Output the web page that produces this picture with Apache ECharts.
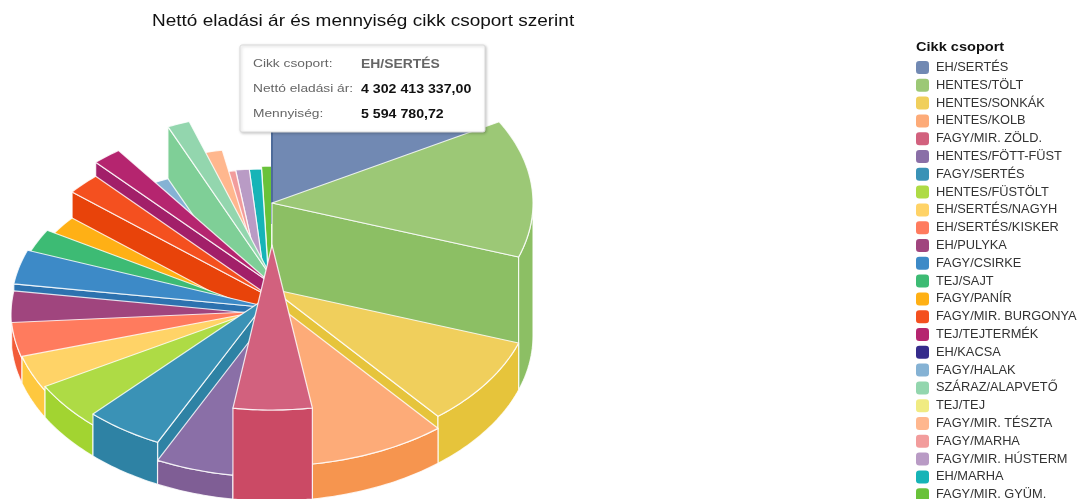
<!DOCTYPE html>
<html><head><meta charset="utf-8">
<style>html,body{margin:0;padding:0;background:#fff}#c{width:1082px;height:499px}</style>
<script src="https://cdn.jsdelivr.net/npm/echarts@6/dist/echarts.min.js"></script>
</head><body><div id="c"></div>
<script>
const categories = ['EH/SERTÉS','HENTES/TÖLT','HENTES/SONKÁK','HENTES/KOLB','FAGY/MIR. ZÖLD.','HENTES/FÖTT-FÜST','FAGY/SERTÉS','HENTES/FÜSTÖLT','EH/SERTÉS/NAGYH','EH/SERTÉS/KISKER','EH/PULYKA','FAGY/CSIRKE','TEJ/SAJT','FAGY/PANÍR','FAGY/MIR. BURGONYA','TEJ/TEJTERMÉK','EH/KACSA','FAGY/HALAK','SZÁRAZ/ALAPVETŐ','TEJ/TEJ','FAGY/MIR. TÉSZTA','FAGY/MARHA','FAGY/MIR. HÚSTERM','EH/MARHA','FAGY/MIR. GYÜM.'];
const nettoAr = [4302413337,3456000000,2233000000,2175000000,1245000000,1237000000,1230000000,1216000000,917000000,903000000,882000000,860000000,711000000,676000000,533000000,462000000,427000000,462000000,356000000,249000000,284000000,213000000,213000000,192000000,164000000];
const mennyiseg = [5594780.72,6650000,2350000,1750000,4550000,1200000,2100000,1550000,1350000,1250000,1050000,1400000,1100000,600000,1900000,2600000,90000,300000,2900000,60000,1200000,100000,130000,110000,240000];
const topColors = ['#7189B3','#9CC876','#F0CF5C','#FDAB78','#D2617E','#8A6FA7','#3A92B6','#AEDB45','#FFD367','#FF7B5E','#A0457E','#3D8AC7','#3DBB74','#FFB015','#F4501F','#B5256F','#352C8C','#85B2D4','#93D6AE','#F0EB82','#FFB78E','#F29C9C','#B99BC5','#16B4B7','#69C23A'];
const sideColors = ['#5D7AA6','#8CBF64','#E6C43B','#F6954F','#CB4A65','#7F5E95','#2E82A4','#A2D431','#FEC83F','#F25C38','#8F3A72','#2C72AF','#2FAE66','#F5A300','#E8430A','#A21F69','#2A2278','#6FA2C8','#7FCF97','#E6E06A','#F7A57A','#E88888','#A888B5','#0FA3A6','#5AB32C'];
const tooltipLabels = ['Cikk csoport:','Nettó eladási ár:','Mennyiség:'];

const chartTitle = 'Nettó eladási ár és mennyiség cikk csoport szerint';
const legendTitle = 'Cikk csoport';

const CX = 272, RX = 261, BASE_Y = 336, RY = 165, UNITS_PER_PX = 50000;
const total = nettoAr.reduce((a,b)=>a+b,0);
const starts = []; let acc = 0;
nettoAr.forEach(v=>{starts.push(acc/total*2*Math.PI); acc+=v;});
const ends = nettoAr.map((v,i)=>starts[i]+v/total*2*Math.PI);
const mids = starts.map((s,i)=>(s+ends[i])/2);

function fmt(v,dec){
  const parts = v.toFixed(dec).split('.');
  return parts[0].replace(/\B(?=(\d{3})+$)/g,' ')+','+parts[1];
}
function renderSlice(i){
  return function(params,api){
    const t0=starts[i],t1=ends[i];
    const q=api.value(1);
    const topC=api.coord([0,q]), baseC=api.coord([0,0]);
    const rx=api.size([1,0])[0];
    const ry=rx*RY/RX;
    const pt=(c,t)=>[c[0]+rx*Math.sin(t),c[1]-ry*Math.cos(t)];
    const style=(f)=>({fill:f,stroke:'rgba(255,255,255,0.82)',lineWidth:1.2,lineJoin:'round'});
    const children=[];
    const face=t=>({type:'polygon',silent:true,shape:{points:[topC,pt(topC,t),pt(baseC,t),baseC]},style:style(sideColors[i])});
    if(Math.sin(t0)<-1e-6) children.push(face(t0));
    if(Math.sin(t1)>1e-6) children.push(face(t1));
    const a=Math.max(t0,Math.PI/2), b=Math.min(t1,Math.PI*1.5);
    if(b>a){
      const up=[],down=[];
      const n=Math.max(2,Math.ceil((b-a)/0.02));
      for(let k=0;k<=n;k++){const t=a+(b-a)*k/n;up.push(pt(topC,t));down.unshift(pt(baseC,t));}
      children.push({type:'polygon',silent:true,shape:{points:up.concat(down)},style:style(sideColors[i])});
    }
    const pts=[topC];
    const m=Math.max(2,Math.ceil((t1-t0)/0.02));
    for(let k=0;k<=m;k++)pts.push(pt(topC,t0+(t1-t0)*k/m));
    children.push({type:'polygon',silent:true,shape:{points:pts},style:style(topColors[i])});
    if(t0===0) children.push({type:'line',silent:true,shape:{x1:topC[0],y1:topC[1],x2:topC[0],y2:topC[1]-ry},style:{stroke:'#4E6B9A',lineWidth:2}});
    return {type:'group',children};
  };
}
const order = categories.map((_,i)=>i).sort((a,b)=>Math.abs(mids[b]-Math.PI)-Math.abs(mids[a]-Math.PI));
const zOf = {}; order.forEach((i,r)=>zOf[i]=2+r);

const series = categories.map((name,i)=>({
  type:'custom',name,coordinateSystem:'cartesian2d',clip:false,silent:true,z:zOf[i],
  itemStyle:{color:topColors[i]},
  encode:{x:0,y:1},
  data:[[0,mennyiseg[i]]],
  renderItem:renderSlice(i),animation:false
}));

const TX=240,TY=45,TW=245,TH=87;
const tipValues=[categories[0],fmt(nettoAr[0],2),fmt(mennyiseg[0],2)];
const font='"Liberation Sans",Arial,sans-serif';
const tipChildren=[{type:'rect',z:1000,shape:{x:TX,y:TY,width:TW,height:TH,r:2},
  style:{fill:'#fff',stroke:'#dcdcdc',lineWidth:1,shadowBlur:3,shadowColor:'rgba(0,0,0,0.22)',shadowOffsetX:1,shadowOffsetY:1}}];
[64,89,114].forEach((y,k)=>{
  tipChildren.push({type:'text',z:1001,x:TX+13,y:y,scaleX:1.25,style:{text:tooltipLabels[k],font:'11px '+font,fill:'#666',textVerticalAlign:'middle'}});
  tipChildren.push({type:'text',z:1001,x:TX+121,y:y,scaleX:k===0?1.07:1.09,style:{text:tipValues[k],font:'bold 13px '+font,fill:k===0?'#666':'#111',textVerticalAlign:'middle'}});
});

const chart=echarts.init(document.getElementById('c'),null,{renderer:'canvas'});
chart.setOption({
  animation:false,
  backgroundColor:'#fff',
  legend:{orient:'vertical',left:916,top:61,height:600,padding:0,itemWidth:13,itemHeight:13,itemGap:4.8,icon:'roundRect',
    selectedMode:false,data:categories,textStyle:{fontFamily:'"Liberation Sans",Arial',fontSize:12.8,color:'#333',padding:[0,0,0,2]}},
  tooltip:{show:false},
  grid:{left:CX-RX,width:2*RX,top:0,height:BASE_Y,containLabel:false},
  xAxis:{type:'value',min:-1,max:1,show:false},
  yAxis:{type:'value',min:0,max:BASE_Y*UNITS_PER_PX,show:false},
  series,
  graphic:[{type:'group',silent:true,children:tipChildren.concat([
    {type:'text',z:1001,x:152,y:21,scaleX:1.117,style:{text:chartTitle,font:'17px '+font,fill:'#111',textVerticalAlign:'middle'}},
    {type:'text',z:1001,x:916,y:47,scaleX:1.12,style:{text:legendTitle,font:'bold 13px '+font,fill:'#111',textVerticalAlign:'middle'}}
  ])}]
});
</script></body></html>
